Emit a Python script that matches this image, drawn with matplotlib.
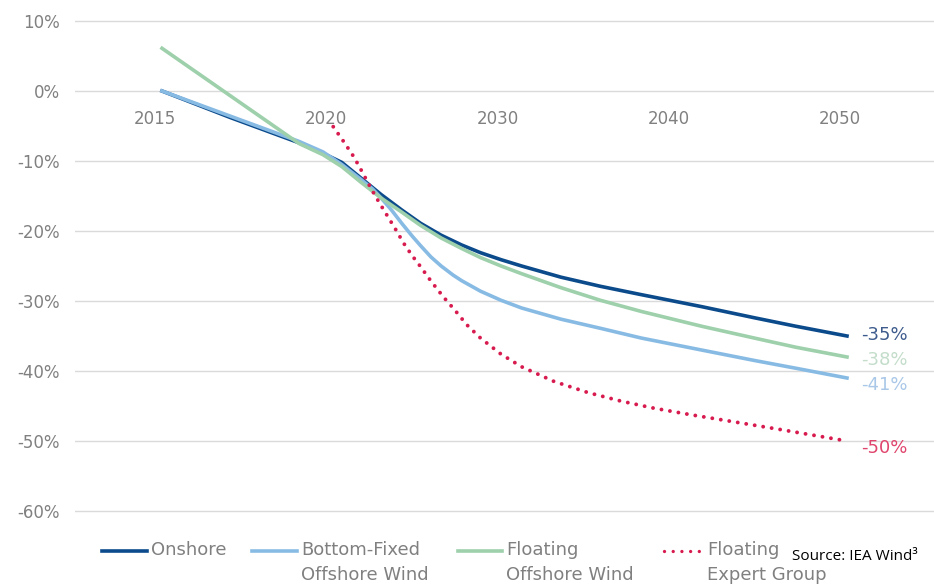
import numpy as np
import matplotlib.pyplot as plt
from matplotlib.lines import Line2D
from matplotlib.transforms import ScaledTranslation

# category axis: 2015 | 2020 | 2030 | 2040 | 2050, equally spaced
tick_years = [2015, 2020, 2030, 2040, 2050]
tick_labels = ["2015", "2020", "2030", "2040", "2050"]

onshore_years = [2015, 2017, 2019, 2019.7, 2020.5, 2021.6, 2022.8, 2024.0, 2025.1,
                 2026.3, 2027.5, 2028.6, 2029.8, 2031.0, 2033.3, 2035.6, 2038.0,
                 2041.5, 2044.6, 2047.0, 2050]
onshore_vals = [0, -3.8, -7.4, -8.9, -10.2, -12.4, -14.8, -17.0, -18.9,
                -20.6, -22.0, -23.1, -24.1, -25.0, -26.6, -27.9, -29.1,
                -30.8, -32.4, -33.6, -35.0]

fixed_years = [2015, 2017, 2019, 2019.7, 2020.5, 2021.6, 2022.3, 2022.8, 2023.4,
               2024.0, 2024.6, 2025.1, 2025.7, 2026.3, 2027.0, 2027.5, 2028.6,
               2029.8, 2031.0, 2033.3, 2035.6, 2038.0, 2041.5, 2044.6, 2047.0, 2050]
fixed_vals = [0, -3.6, -7.2, -8.7, -10.5, -12.6, -14.0, -15.3, -17.0,
              -18.9, -20.7, -22.1, -23.7, -25.0, -26.3, -27.1, -28.6,
              -29.9, -31.0, -32.6, -33.9, -35.3, -37.0, -38.5, -39.6, -41.0]

floating_years = [2015, 2019, 2019.7, 2020.5, 2021.6, 2022.8, 2024.0, 2025.1,
                  2026.3, 2027.5, 2028.6, 2029.8, 2031.0, 2033.3, 2035.6, 2038.0,
                  2041.5, 2044.6, 2047.0, 2050]
floating_vals = [6.1, -7.5, -9.1, -10.8, -13.0, -15.3, -17.3, -19.2,
                 -21.0, -22.5, -23.8, -25.0, -26.1, -28.1, -29.9, -31.5,
                 -33.6, -35.3, -36.6, -38.0]

expert_years = [2020, 2020.6, 2021.2, 2021.7, 2022.2, 2022.7, 2023.2, 2023.7,
                2024.1, 2024.6, 2025.1, 2025.6, 2026.1, 2026.6, 2027.1, 2027.8,
                2028.6, 2029.8, 2031.0, 2032.9, 2034.9, 2036.8, 2038.7, 2041.0,
                2043.0, 2046.2, 2050]
expert_vals = [-5.1, -7.2, -9.4, -11.6, -13.9, -16.0, -18.0, -20.0,
               -21.7, -23.5, -25.1, -26.8, -28.4, -29.9, -31.3, -33.4,
               -35.3, -37.6, -39.4, -41.5, -43.1, -44.3, -45.3, -46.3,
               -47.1, -48.4, -50.0]

end_labels = ["-35%", "-38%", "-41%", "-50%"]

C_ONSHORE = "#0b4a8b"
C_FIXED = "#88bbe4"
C_FLOAT = "#9dd0ab"
C_EXPERT = "#d81b4f"
GREY = "#808080"

W, H = 934, 584


def pos(years):
    return np.interp(years, tick_years, np.arange(len(tick_years)))


fig = plt.figure(figsize=(W / 100, H / 100), dpi=100)
ax = fig.add_axes([75 / W, (H - 518) / H, 1 - 75 / W, 504 / H])

ax.set_xlim(-0.508, 4.508)
ax.set_ylim(-61, 11)

ax.plot(pos(onshore_years), onshore_vals, color=C_ONSHORE, lw=2.6, zorder=3)
ax.plot(pos(fixed_years), fixed_vals, color=C_FIXED, lw=2.6, zorder=3)
ax.plot(pos(floating_years), floating_vals, color=C_FLOAT, lw=2.6, zorder=3)
ax.plot(pos(expert_years), expert_vals, color=C_EXPERT, lw=2.8,
        linestyle=(0, (0.01, 2.2)), dash_capstyle="round", zorder=4)

# value labels at the right end of each series
ends = [(onshore_vals[-1], "#3d5b8c", 1),
        (floating_vals[-1], "#c3ddca", -2),
        (fixed_vals[-1], "#a9c8e8", -5),
        (expert_vals[-1], "#e0456d", -5)]
for text, (val, tcol, dy) in zip(end_labels, ends):
    ax.annotate(text, xy=(pos([2050])[0], val), xytext=(10, dy),
                textcoords="offset points", color=tcol, fontsize=13,
                va="center", ha="left")

ax.set_yticks(np.arange(-60, 11, 10))
ax.set_yticklabels([f"{v}%" for v in range(-60, 11, 10)])
ax.grid(axis="y", color="#dadada", lw=1.0)
ax.set_axisbelow(True)

ax.set_xticks(np.arange(len(tick_years)))
ax.set_xticklabels(tick_labels)
ax.spines["bottom"].set_position(("data", 0))
for s in ax.spines.values():
    s.set_visible(False)
ax.tick_params(axis="y", length=0, pad=11, labelsize=12, labelcolor=GREY)
ax.tick_params(axis="x", length=0, pad=14, labelsize=12, labelcolor=GREY)
shift = ScaledTranslation(-7 / 100, 0, fig.dpi_scale_trans)
for lab in ax.get_xticklabels():
    lab.set_transform(lab.get_transform() + shift)

# legend along the bottom, drawn in pixel positions
def fx(x):
    return x / W


def fy(y):
    return 1 - y / H


legend_items = [
    (102, 147, C_ONSHORE, "-", ["Onshore"]),
    (252, 297, C_FIXED, "-", ["Bottom-Fixed", "Offshore Wind"]),
    (458, 502, C_FLOAT, "-", ["Floating", "Offshore Wind"]),
    (664, 703, C_EXPERT, (0, (0.01, 2.6)), ["Floating", "Expert Group"]),
]
for x0, x1, col, ls, lines in legend_items:
    fig.add_artist(Line2D([fx(x0), fx(x1)], [fy(551), fy(551)], color=col,
                          lw=2.6 if ls == "-" else 2.4, linestyle=ls,
                          dash_capstyle="round", transform=fig.transFigure))
    for i, line in enumerate(lines):
        fig.text(fx(x1 + 4), fy(550 + 25 * i), line, color=GREY, fontsize=13,
                 va="center", ha="left")

fig.text(fx(792), fy(560), "Source: IEA Wind\u00b3", color="black", fontsize=11,
         family="Open Sans", va="baseline", ha="left")

fig.savefig("out.png", dpi=100, facecolor="white")
